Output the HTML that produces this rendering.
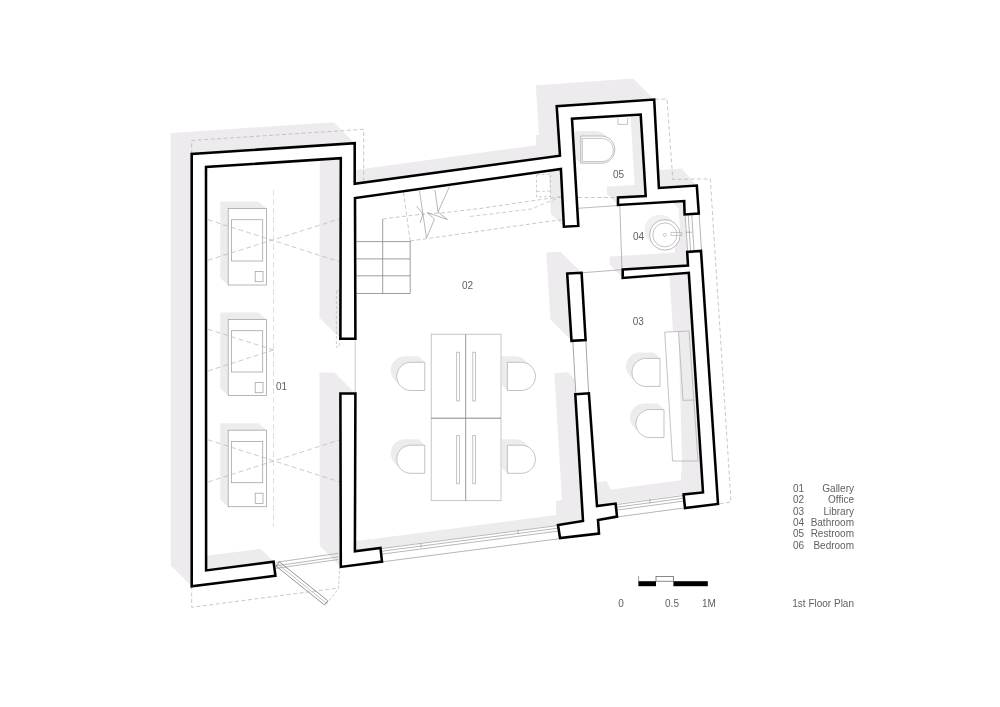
<!DOCTYPE html>
<html><head><meta charset="utf-8"><style>
html,body{margin:0;padding:0;background:#fff;}
svg{display:block;font-family:"Liberation Sans",sans-serif;}
text{filter:grayscale(1);}
</style></head><body>
<svg width="1000" height="707" viewBox="0 0 1000 707">
<rect width="1000" height="707" fill="#fff"/>
<path d="M355,159.8 L354.7,159.8 L354.7,143.2 L333.7,122.2 L170.7,133 L170.7,565.2 L191.7,586.2 L206,584.4 L275.4,575.8 L273.6,561.8 L260.6,548.8 L206.1,555.7 L206.1,515 L206.1,515 L206,167 L319.8,159.6 L319.4,317.7 L340.4,338.7 L355.4,338.7 L355,198 L530,173.4 L548.7,170.7 L550.9,213.7 L563.9,226.7 L564,226.7 L578,225.9 L578.1,225.9 L578.3,225.9 L578,220.8 L578,220.8 L572.7,130.8 L572,118.7 L572,118.7 L630.4,115.1 L634.7,185 L607,186.5 L607,194 L613.8,200.8 L617,204 L618,205 L671.8,201.7 L678.6,208.5 L680.7,238.5 L674.2,239 L675,252.6 L609.7,256.6 L609.7,264.9 L615.3,270.5 L622.7,277.9 L669.3,274.3 L680.6,450 L681,450 L681,455.9 L682,471.4 L681,471.5 L681,480.3 L670.6,481.4 L610.5,489.7 L617,504 L606.6,481.1 L596,482.6 L596,484 L595.4,483.4 L588.9,393.3 L567.9,372.3 L554.3,373.3 L562,500 L556,501 L556,514.9 L549,516 L373,539 L373,540.5 L371.5,539 L355,541.1 L355,527.6 L355,527.6 L355,519.7 L355,519.7 L355.1,500 L355.4,393.5 L334.4,372.5 L319.4,372.5 L319.8,545.9 L340.8,566.9 L381.3,561.7 L382,561.6 L556,538.5 L560,538 L599,533.6 L598,520 L617,516.6 L685,508 L718,504 L701.1,252 L701,250.9 L698.8,213.5 L697,188 L696.8,185.6 L681.8,168.6 L659,170 L659,165.7 L657.7,165.7 L654.2,99.5 L633.2,78.5 L536,85.2 L536,89.7 L539,134.7 L536,135.1 L536,145.3 L355,170ZM550.5,319.8 L571.5,340.8 L585.6,340 L581.6,272.8 L560.6,251.8 L546.2,252.6Z" fill="#eeebef"/>
<path d="M599.4,131.7 L598,131.3 L596.6,131.1 L595.2,131 L574.8,131 L574.8,158.2 L580.8,163.2 L601.2,163.2 L602.6,163.1 L604,162.9 L605.4,162.5 L606.7,162 L608,161.4 L609.2,160.6 L610.3,159.7 L611.3,158.7 L612.2,157.6 L613,156.4 L613.6,155.1 L614.1,153.8 L614.5,152.4 L614.7,151 L614.8,149.6 L614.7,148.2 L614.5,146.8 L614.1,145.4 L613.6,144.1 L613,142.8 L612.2,141.6 L611.3,140.5 L610.3,139.5 L604.3,134.5 L603.2,133.6 L602,132.8 L600.7,132.2ZM228.2,285 L266.5,285 L266.5,208.5 L258.5,201.5 L220.2,201.5 L220.2,278ZM228.2,395.5 L266.5,395.5 L266.5,319.5 L258.5,312.5 L220.2,312.5 L220.2,388.5ZM626.1,364.9 L626,366.4 L626.1,367.9 L626.3,369.3 L626.7,370.7 L627.2,372.1 L627.9,373.4 L628.7,374.6 L629.6,375.8 L635.6,381.8 L636.6,382.8 L637.8,383.7 L639,384.5 L640.3,385.2 L641.7,385.7 L643.1,386.1 L644.5,386.3 L646,386.4 L660,386.4 L660,358.4 L654,352.4 L640,352.4 L638.5,352.5 L637.1,352.7 L635.7,353.1 L634.3,353.6 L633,354.3 L631.8,355.1 L630.6,356 L629.6,357 L628.7,358.2 L627.9,359.4 L627.2,360.7 L626.7,362.1 L626.3,363.5ZM390.9,368.9 L390.8,370.4 L390.9,371.9 L391.1,373.3 L391.5,374.8 L392,376.1 L392.7,377.4 L393.5,378.7 L394.4,379.8 L395.5,380.9 L400.4,385.8 L401.5,386.9 L402.6,387.8 L403.8,388.6 L405.2,389.3 L406.5,389.8 L408,390.2 L409.4,390.4 L410.9,390.5 L424.8,390.5 L424.8,362.3 L418.8,356.3 L404.9,356.3 L403.4,356.4 L402,356.6 L400.5,357 L399.2,357.5 L397.8,358.2 L396.6,359 L395.5,359.9 L394.4,361 L393.5,362.1 L392.7,363.3 L392,364.7 L391.5,366 L391.1,367.5ZM507.4,390.5 L521.3,390.5 L522.8,390.4 L524.2,390.2 L525.7,389.8 L527,389.3 L528.3,388.6 L529.6,387.8 L530.7,386.9 L531.8,385.8 L532.7,384.7 L533.5,383.4 L534.2,382.1 L534.7,380.8 L535.1,379.3 L535.3,377.9 L535.4,376.4 L535.3,374.9 L535.1,373.5 L534.7,372 L534.2,370.7 L533.5,369.3 L532.7,368.1 L531.8,367 L525.8,361 L524.7,359.9 L523.6,359 L522.3,358.2 L521,357.5 L519.7,357 L518.2,356.6 L516.8,356.4 L515.3,356.3 L501.4,356.3 L501.4,384.5ZM630.3,414.7 L630.1,416.1 L630,417.6 L630.1,419.1 L630.3,420.5 L630.7,421.9 L631.2,423.3 L631.9,424.6 L632.7,425.8 L633.6,427 L639.6,433 L640.6,434 L641.8,434.9 L643,435.7 L644.3,436.4 L645.7,436.9 L647.1,437.3 L648.5,437.5 L650,437.6 L664,437.6 L664,409.6 L658,403.6 L644,403.6 L642.5,403.7 L641.1,403.9 L639.7,404.3 L638.3,404.8 L637,405.5 L635.8,406.3 L634.6,407.2 L633.6,408.2 L632.7,409.4 L631.9,410.6 L631.2,411.9 L630.7,413.3ZM391.1,450.3 L390.9,451.8 L390.8,453.2 L390.9,454.7 L391.1,456.2 L391.5,457.6 L392,459 L392.7,460.3 L393.5,461.5 L394.4,462.7 L395.4,463.7 L400.4,468.7 L401.4,469.7 L402.6,470.6 L403.8,471.4 L405.1,472.1 L406.5,472.6 L407.9,473 L409.4,473.2 L410.9,473.3 L424.8,473.3 L424.8,445.2 L418.8,439.2 L404.9,439.2 L403.4,439.3 L401.9,439.5 L400.5,439.9 L399.1,440.4 L397.8,441.1 L396.6,441.9 L395.4,442.8 L394.4,443.8 L393.5,445 L392.7,446.2 L392,447.5 L391.5,448.9ZM521.3,473.3 L522.8,473.2 L524.3,473 L525.7,472.6 L527.1,472.1 L528.4,471.4 L529.6,470.6 L530.8,469.7 L531.8,468.7 L532.7,467.5 L533.5,466.3 L534.2,465 L534.7,463.6 L535.1,462.2 L535.3,460.7 L535.4,459.2 L535.3,457.8 L535.1,456.3 L534.7,454.9 L534.2,453.5 L533.5,452.2 L532.7,451 L531.8,449.8 L530.8,448.8 L525.8,443.8 L524.8,442.8 L523.6,441.9 L522.4,441.1 L521.1,440.4 L519.7,439.9 L518.3,439.5 L516.8,439.3 L515.3,439.2 L501.4,439.2 L501.4,467.3 L507.4,473.3ZM266.5,506.7 L266.5,430.2 L258.5,423.2 L220.2,423.2 L220.2,499.7 L228.2,506.7Z" fill="#eeebef"/>
<path d="M669.6,218.1 L668.4,217.2 L667.1,216.4 L665.8,215.8 L664.3,215.3 L662.9,214.9 L661.4,214.7 L659.9,214.6 L658.4,214.7 L656.9,214.9 L655.5,215.3 L654,215.8 L652.7,216.4 L651.4,217.2 L650.2,218.1 L649.1,219.1 L648.1,220.2 L647.2,221.4 L646.4,222.7 L645.8,224 L645.3,225.5 L644.9,226.9 L644.7,228.4 L644.6,229.9 L644.7,231.4 L644.9,232.9 L645.3,234.3 L645.8,235.8 L646.4,237.1 L647.2,238.4 L648.1,239.6 L649.1,240.7 L649.6,241.2 L650.1,241.7 L650.6,242.2 L651.1,242.7 L651.6,243.2 L652.1,243.7 L652.6,244.2 L653.1,244.7 L653.6,245.2 L654.1,245.7 L655.2,246.7 L656.4,247.6 L657.7,248.4 L659,249 L660.5,249.5 L661.9,249.9 L663.4,250.1 L664.9,250.2 L666.4,250.1 L667.9,249.9 L669.3,249.5 L670.8,249 L672.1,248.4 L673.4,247.6 L674.6,246.7 L675.7,245.7 L676.7,244.6 L677.6,243.4 L678.4,242.1 L679,240.8 L679.5,239.3 L679.9,237.9 L680.1,236.4 L680.2,234.9 L680.1,233.4 L679.9,231.9 L679.5,230.5 L679,229 L678.4,227.7 L677.6,226.4 L676.7,225.2 L675.7,224.1 L675.2,223.6 L674.7,223.1 L674.2,222.6 L673.7,222.1 L673.2,221.6 L672.7,221.1 L672.2,220.6 L671.7,220.1 L671.2,219.6 L670.7,219.1Z" fill="#f1eff2"/>
<polyline points="191.7,154 191.7,140.5 363.7,129.3 363.7,180.7" fill="none" stroke="#b0b0b0" stroke-width="0.7" stroke-dasharray="4,2.5"/>
<polyline points="655,99.2 667,99 672.8,179.5 710.3,178.8 731,502 718,504" fill="none" stroke="#b0b0b0" stroke-width="0.7" stroke-dasharray="4,2.5"/>
<polyline points="191.7,586 191.7,607.3 338.4,588" fill="none" stroke="#b0b0b0" stroke-width="0.7" stroke-dasharray="4,2.5"/>
<rect x="228.2" y="208.5" width="38.3" height="76.5" fill="#fff" stroke="#a6a6a6" stroke-width="0.8"/>
<rect x="231.5" y="219.7" width="31.2" height="41.3" fill="none" stroke="#a6a6a6" stroke-width="0.8"/>
<rect x="255.2" y="271.5" width="7.8" height="10.2" fill="none" stroke="#a6a6a6" stroke-width="0.8"/>
<rect x="228.2" y="319.5" width="38.3" height="76" fill="#fff" stroke="#a6a6a6" stroke-width="0.8"/>
<rect x="231.5" y="330.7" width="31.2" height="41.3" fill="none" stroke="#a6a6a6" stroke-width="0.8"/>
<rect x="255.2" y="382.5" width="7.8" height="10.2" fill="none" stroke="#a6a6a6" stroke-width="0.8"/>
<rect x="228.2" y="430.2" width="38.3" height="76.5" fill="#fff" stroke="#a6a6a6" stroke-width="0.8"/>
<rect x="231.5" y="441.4" width="31.2" height="41.3" fill="none" stroke="#a6a6a6" stroke-width="0.8"/>
<rect x="255.2" y="493.2" width="7.8" height="10.2" fill="none" stroke="#a6a6a6" stroke-width="0.8"/>
<polyline points="208,219.7 339.4,261.7" fill="none" stroke="#b4b4b4" stroke-width="0.7" stroke-dasharray="5,3"/>
<polyline points="208,260.2 339.4,219" fill="none" stroke="#b4b4b4" stroke-width="0.7" stroke-dasharray="5,3"/>
<polyline points="208,329.2 273.5,350" fill="none" stroke="#b4b4b4" stroke-width="0.7" stroke-dasharray="5,3"/>
<polyline points="208,371 273.5,350" fill="none" stroke="#b4b4b4" stroke-width="0.7" stroke-dasharray="5,3"/>
<polyline points="208,439.8 340,482" fill="none" stroke="#b4b4b4" stroke-width="0.7" stroke-dasharray="5,3"/>
<polyline points="208,482 340,439.8" fill="none" stroke="#b4b4b4" stroke-width="0.7" stroke-dasharray="5,3"/>
<polyline points="273.5,190 273.5,527" fill="none" stroke="#d0d0d0" stroke-width="0.7" stroke-dasharray="6,3"/>
<polygon points="336.4,291 339.4,291 339.4,347 336.4,347" fill="none" stroke="#b0b0b0" stroke-width="0.6" stroke-dasharray="3,2"/>
<polyline points="355.2,338.7 355.2,393.5" fill="none" stroke="#bbb" stroke-width="0.8"/>
<polyline points="356.5,241.6 410.2,241.6" fill="none" stroke="#858585" stroke-width="0.8"/>
<polyline points="356.5,258.9 410.2,258.9" fill="none" stroke="#858585" stroke-width="0.8"/>
<polyline points="356.5,275.8 410.2,275.8" fill="none" stroke="#858585" stroke-width="0.8"/>
<polyline points="356.5,293.5 410.2,293.5" fill="none" stroke="#858585" stroke-width="0.8"/>
<polyline points="382.7,219 382.7,293.5" fill="none" stroke="#858585" stroke-width="0.8"/>
<polyline points="410.2,240.5 410.2,293.5" fill="none" stroke="#858585" stroke-width="0.8"/>
<polyline points="382.7,219 423,214 441,213 480,208.5 561.5,196.5" fill="none" stroke="#b0b0b0" stroke-width="0.7" stroke-dasharray="4,2.5"/>
<polyline points="470,216.5 531,209 561.5,196.5" fill="none" stroke="#b0b0b0" stroke-width="0.6" stroke-dasharray="4,2.5"/>
<polyline points="410,241 561.5,219.6" fill="none" stroke="#b0b0b0" stroke-width="0.7" stroke-dasharray="4,2.5"/>
<polyline points="403.5,192 410,240" fill="none" stroke="#b0b0b0" stroke-width="0.7" stroke-dasharray="4,2.5"/>
<polyline points="419.5,191 426.5,238" fill="none" stroke="#999" stroke-width="0.7"/>
<polyline points="416.5,206 423,214 420,223" fill="none" stroke="#999" stroke-width="0.7"/>
<polyline points="426.5,238 434.5,219 427,212.5 447.5,219.5 438,212 449.5,186.5" fill="none" stroke="#999" stroke-width="0.7"/>
<polyline points="435,190 438,212" fill="none" stroke="#999" stroke-width="0.7"/>
<polygon points="536.5,175 550.5,174 550.5,196.5 536.5,197" fill="none" stroke="#b0b0b0" stroke-width="0.6" stroke-dasharray="3,2"/>
<polyline points="537,191.5 550.5,191" fill="none" stroke="#b0b0b0" stroke-width="0.6" stroke-dasharray="3,2"/>
<rect x="431.2" y="334.2" width="69.8" height="166.5" fill="#fff" stroke="#b8b8b8" stroke-width="0.8"/>
<polyline points="465.7,334.2 465.7,500.7" fill="none" stroke="#999" stroke-width="1.0"/>
<polyline points="431.2,418.2 501,418.2" fill="none" stroke="#888" stroke-width="1.0"/>
<rect x="456.7" y="352.2" width="2.6" height="48.8" fill="none" stroke="#aaa" stroke-width="0.7"/>
<rect x="472.8" y="352.2" width="2.6" height="48.8" fill="none" stroke="#aaa" stroke-width="0.7"/>
<rect x="456.7" y="435.5" width="2.6" height="48.3" fill="none" stroke="#aaa" stroke-width="0.7"/>
<rect x="472.8" y="435.5" width="2.6" height="48.3" fill="none" stroke="#aaa" stroke-width="0.7"/>
<polygon points="424.8,362.3 410.9,362.3 409.4,362.4 408,362.6 406.5,363 405.2,363.5 403.8,364.2 402.6,365 401.5,365.9 400.4,367 399.5,368.1 398.7,369.3 398,370.7 397.5,372 397.1,373.5 396.9,374.9 396.8,376.4 396.9,377.9 397.1,379.3 397.5,380.8 398,382.1 398.7,383.4 399.5,384.7 400.4,385.8 401.5,386.9 402.6,387.8 403.8,388.6 405.2,389.3 406.5,389.8 408,390.2 409.4,390.4 410.9,390.5 424.8,390.5" fill="#fff" stroke="#b4b4b4" stroke-width="0.8"/>
<polygon points="507.4,362.3 521.3,362.3 522.8,362.4 524.2,362.6 525.7,363 527,363.5 528.3,364.2 529.6,365 530.7,365.9 531.8,367 532.7,368.1 533.5,369.3 534.2,370.7 534.7,372 535.1,373.5 535.3,374.9 535.4,376.4 535.3,377.9 535.1,379.3 534.7,380.8 534.2,382.1 533.5,383.4 532.7,384.7 531.8,385.8 530.7,386.9 529.6,387.8 528.3,388.6 527,389.3 525.7,389.8 524.2,390.2 522.8,390.4 521.3,390.5 507.4,390.5" fill="#fff" stroke="#b4b4b4" stroke-width="0.8"/>
<polygon points="424.8,445.2 410.9,445.2 409.4,445.3 407.9,445.5 406.5,445.9 405.1,446.4 403.8,447.1 402.6,447.9 401.4,448.8 400.4,449.8 399.5,451 398.7,452.2 398,453.5 397.5,454.9 397.1,456.3 396.9,457.8 396.8,459.2 396.9,460.7 397.1,462.2 397.5,463.6 398,465 398.7,466.3 399.5,467.5 400.4,468.7 401.4,469.7 402.6,470.6 403.8,471.4 405.1,472.1 406.5,472.6 407.9,473 409.4,473.2 410.9,473.3 424.8,473.3" fill="#fff" stroke="#b4b4b4" stroke-width="0.8"/>
<polygon points="507.4,445.2 521.3,445.2 522.8,445.3 524.3,445.5 525.7,445.9 527.1,446.4 528.4,447.1 529.6,447.9 530.8,448.8 531.8,449.8 532.7,451 533.5,452.2 534.2,453.5 534.7,454.9 535.1,456.3 535.3,457.8 535.4,459.2 535.3,460.7 535.1,462.2 534.7,463.6 534.2,465 533.5,466.3 532.7,467.5 531.8,468.7 530.8,469.7 529.6,470.6 528.4,471.4 527.1,472.1 525.7,472.6 524.3,473 522.8,473.2 521.3,473.3 507.4,473.3" fill="#fff" stroke="#b4b4b4" stroke-width="0.8"/>
<polygon points="660,358.4 646,358.4 644.5,358.5 643.1,358.7 641.7,359.1 640.3,359.6 639,360.3 637.8,361.1 636.6,362 635.6,363 634.7,364.2 633.9,365.4 633.2,366.7 632.7,368.1 632.3,369.5 632.1,370.9 632,372.4 632.1,373.9 632.3,375.3 632.7,376.7 633.2,378.1 633.9,379.4 634.7,380.6 635.6,381.8 636.6,382.8 637.8,383.7 639,384.5 640.3,385.2 641.7,385.7 643.1,386.1 644.5,386.3 646,386.4 660,386.4" fill="#fff" stroke="#b4b4b4" stroke-width="0.8"/>
<polygon points="664,409.6 650,409.6 648.5,409.7 647.1,409.9 645.7,410.3 644.3,410.8 643,411.5 641.8,412.3 640.6,413.2 639.6,414.2 638.7,415.4 637.9,416.6 637.2,417.9 636.7,419.3 636.3,420.7 636.1,422.1 636,423.6 636.1,425.1 636.3,426.5 636.7,427.9 637.2,429.3 637.9,430.6 638.7,431.8 639.6,433 640.6,434 641.8,434.9 643,435.7 644.3,436.4 645.7,436.9 647.1,437.3 648.5,437.5 650,437.6 664,437.6" fill="#fff" stroke="#b4b4b4" stroke-width="0.8"/>
<polygon points="664.7,332.1 678.5,332 682,461 672.6,461" fill="#fff"/>
<polygon points="664.7,332.1 689,331 698,461 672.6,461" fill="none" stroke="#aaa" stroke-width="0.7"/>
<polyline points="678.5,332 683,400.4 694,400" fill="none" stroke="#aaa" stroke-width="0.7"/>
<polygon points="580.8,136 601.2,136 602.6,136.1 604,136.3 605.4,136.7 606.7,137.2 608,137.8 609.2,138.6 610.3,139.5 611.3,140.5 612.2,141.6 613,142.8 613.6,144.1 614.1,145.4 614.5,146.8 614.7,148.2 614.8,149.6 614.7,151 614.5,152.4 614.1,153.8 613.6,155.1 613,156.4 612.2,157.6 611.3,158.7 610.3,159.7 609.2,160.6 608,161.4 606.7,162 605.4,162.5 604,162.9 602.6,163.1 601.2,163.2 580.8,163.2" fill="#fff" stroke="#aaa" stroke-width="0.8"/>
<polygon points="582.3,138.4 601.7,138.4 602.9,138.5 604.1,138.7 605.3,139 606.4,139.4 607.5,140 608.5,140.6 609.5,141.4 610.3,142.2 611.1,143.2 611.7,144.2 612.3,145.3 612.7,146.4 613,147.6 613.2,148.8 613.3,150 613.2,151.2 613,152.4 612.7,153.6 612.3,154.7 611.7,155.8 611.1,156.8 610.3,157.8 609.5,158.6 608.5,159.4 607.5,160 606.4,160.6 605.3,161 604.1,161.3 602.9,161.5 601.7,161.6 582.3,161.6" fill="none" stroke="#aaa" stroke-width="0.7"/>
<polyline points="618,118 618,124.4 627.6,124.4 627.6,118" fill="none" stroke="#aaa" stroke-width="0.7"/>
<polyline points="578,208.3 618,205.5" fill="none" stroke="#aaa" stroke-width="0.8"/>
<polyline points="578,197.5 618,197.5" fill="none" stroke="#b0b0b0" stroke-width="0.7" stroke-dasharray="4,2.5"/>
<polyline points="619.8,205 622,270" fill="none" stroke="#999" stroke-width="0.7"/>
<polyline points="581.6,272.8 622.7,269.6" fill="none" stroke="#999" stroke-width="0.7"/>
<circle cx="664.9" cy="234.9" r="15.3" fill="#fff" stroke="#aaa" stroke-width="0.8"/>
<circle cx="664.9" cy="234.9" r="12" fill="none" stroke="#aaa" stroke-width="0.7"/>
<circle cx="664.9" cy="234.9" r="1.5" fill="none" stroke="#aaa" stroke-width="0.6"/>
<polygon points="670.9,232.5 681.8,232.5 681.8,235.5 670.9,235.5" fill="none" stroke="#aaa" stroke-width="0.6"/>
<polygon points="572.8,341 585.8,340.5 588.8,393.3 575.3,394.3" fill="#fff"/>
<polyline points="572.8,340.5 575.8,393.8" fill="none" stroke="#808080" stroke-width="0.7"/>
<polyline points="585.8,340 588.6,393" fill="none" stroke="#808080" stroke-width="0.7"/>
<polygon points="382,548 558,525 560,538 382,561.6" fill="#fff"/>
<polygon points="617,503.6 683.6,494.4 685,508 617,516.6" fill="#fff"/>
<polygon points="684.6,214.5 698.8,213.5 701,250.9 687.2,252" fill="#fff"/>
<polyline points="382,548.5 558,525.5" fill="none" stroke="#999" stroke-width="0.7"/>
<polyline points="382,551.2 558,528.2" fill="none" stroke="#999" stroke-width="0.7"/>
<polyline points="382,554.1 558,531.1" fill="none" stroke="#999" stroke-width="0.7"/>
<polyline points="382,561.9 558,538.9" fill="none" stroke="#999" stroke-width="0.7"/>
<polyline points="421,543 421,547.5" fill="none" stroke="#999" stroke-width="0.7"/>
<polyline points="518,529.5 518,534" fill="none" stroke="#999" stroke-width="0.7"/>
<polyline points="617,504.5 683.6,495.5" fill="none" stroke="#999" stroke-width="0.7"/>
<polyline points="617,507.2 683.6,498.2" fill="none" stroke="#999" stroke-width="0.7"/>
<polyline points="617,510.1 683.6,501.1" fill="none" stroke="#999" stroke-width="0.7"/>
<polyline points="617,517 683.6,508" fill="none" stroke="#999" stroke-width="0.7"/>
<polyline points="650,499 650,503.5" fill="none" stroke="#999" stroke-width="0.7"/>
<polyline points="685.2,214.5 687.6,251.5" fill="none" stroke="#999" stroke-width="0.7"/>
<polyline points="688.2,214.5 690.6,251.5" fill="none" stroke="#999" stroke-width="0.7"/>
<polyline points="691.7,214.5 694.1,251.5" fill="none" stroke="#999" stroke-width="0.7"/>
<polyline points="699.2,214.5 701.6,251.5" fill="none" stroke="#999" stroke-width="0.7"/>
<polyline points="685.5,232.2 692,232.2" fill="none" stroke="#999" stroke-width="0.7"/>
<polyline points="276.3,562.3 338.4,553.3" fill="none" stroke="#999" stroke-width="0.7"/>
<polyline points="276.3,565.9 338.4,556.8" fill="none" stroke="#999" stroke-width="0.7"/>
<polyline points="276.3,568.3 338.4,559.5" fill="none" stroke="#999" stroke-width="0.7"/>
<polygon points="276,566 324.5,605 327.8,600.8 279.3,561.8" fill="none" stroke="#777" stroke-width="0.8"/>
<polyline points="277.6,564 326,602.9" fill="none" stroke="#999" stroke-width="0.6"/>
<polyline points="326,604.5 338.6,588.4 339.5,568" fill="none" stroke="#b0b0b0" stroke-width="0.7" stroke-dasharray="3,2"/>
<polygon points="275.4,575.8 191.7,586.2 191.7,154 354.7,143.2 354.7,183.7 560,155.7 556.7,106.2 654.2,99.5 658.9,188 696.8,185.6 698.8,213.5 684.6,214.5 684.2,201 618,205 618,197.5 645.7,196 640.7,114.5 572,118.7 578.3,225.9 563.9,226.7 560.9,169 355,198 355.4,338.7 340.4,338.7 340.8,158.2 206,167 206.1,570.4 273.6,561.8" fill="#fff" stroke="#000" stroke-width="2.55" stroke-linejoin="miter"/>
<polygon points="340.4,393.5 355.4,393.5 354.9,551.2 380.5,548 382,561.6 340.8,566.9" fill="#fff" stroke="#000" stroke-width="2.55" stroke-linejoin="miter"/>
<polygon points="567.2,273.6 581.6,272.8 585.6,340 571.5,340.8" fill="#fff" stroke="#000" stroke-width="2.55" stroke-linejoin="miter"/>
<polygon points="575.3,394.3 588.9,393.3 597,506 615.6,503.6 617,516.6 598,520 599,533.6 560,538 558,525 583,521" fill="#fff" stroke="#000" stroke-width="2.55" stroke-linejoin="miter"/>
<polygon points="622.7,269.6 688,265.6 687.2,252 701,250.9 718,504 685,508 683.6,494.4 703,492.4 688.8,272.8 622.7,277.9" fill="#fff" stroke="#000" stroke-width="2.55" stroke-linejoin="miter"/>
<text x="276" y="389.5" font-size="10" text-anchor="start" fill="#606060">01</text>
<text x="462" y="289" font-size="10" text-anchor="start" fill="#606060">02</text>
<text x="632.8" y="324.5" font-size="10" text-anchor="start" fill="#606060">03</text>
<text x="633" y="240" font-size="10" text-anchor="start" fill="#606060">04</text>
<text x="613" y="177.8" font-size="10" text-anchor="start" fill="#606060">05</text>
<text x="793" y="492" font-size="10" text-anchor="start" fill="#606060">01</text>
<text x="854" y="492" font-size="10" text-anchor="end" fill="#606060">Gallery</text>
<text x="793" y="503.4" font-size="10" text-anchor="start" fill="#606060">02</text>
<text x="854" y="503.4" font-size="10" text-anchor="end" fill="#606060">Office</text>
<text x="793" y="514.7" font-size="10" text-anchor="start" fill="#606060">03</text>
<text x="854" y="514.7" font-size="10" text-anchor="end" fill="#606060">Library</text>
<text x="793" y="526.1" font-size="10" text-anchor="start" fill="#606060">04</text>
<text x="854" y="526.1" font-size="10" text-anchor="end" fill="#606060">Bathroom</text>
<text x="793" y="537.4" font-size="10" text-anchor="start" fill="#606060">05</text>
<text x="854" y="537.4" font-size="10" text-anchor="end" fill="#606060">Restroom</text>
<text x="793" y="548.8" font-size="10" text-anchor="start" fill="#606060">06</text>
<text x="854" y="548.8" font-size="10" text-anchor="end" fill="#606060">Bedroom</text>
<text x="621" y="607" font-size="10" text-anchor="middle" fill="#606060">0</text>
<text x="672" y="607" font-size="10" text-anchor="middle" fill="#606060">0.5</text>
<text x="702" y="607" font-size="10" text-anchor="start" fill="#606060">1M</text>
<text x="854" y="607" font-size="10" text-anchor="end" fill="#606060">1st Floor Plan</text>
<rect x="638.4" y="581.2" width="17.6" height="5" fill="#000"/>
<rect x="656" y="576.6" width="17.4" height="4.6" fill="#fff" stroke="#555" stroke-width="0.7"/>
<rect x="673.4" y="581.2" width="34.4" height="5" fill="#000"/>
<line x1="638.6" y1="576" x2="638.6" y2="586" stroke="#555" stroke-width="0.6"/>
</svg></body></html>
